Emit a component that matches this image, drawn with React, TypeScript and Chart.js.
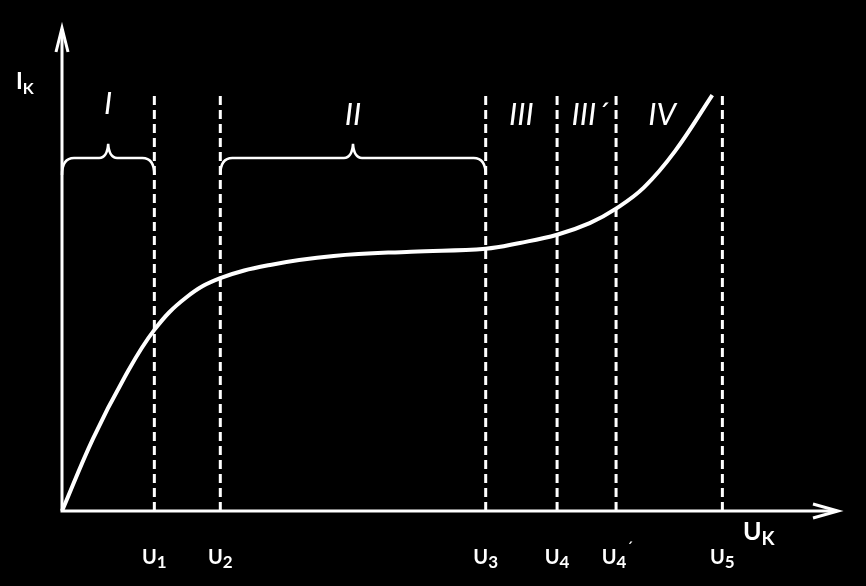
import { useEffect, useRef } from "react";
import { Chart, registerables } from "chart.js";

Chart.register(...registerables);

// Current–voltage characteristic (arbitrary units)
const voltage = [0, 4, 8, 11.9, 16, 20.4, 27, 35, 45, 54.6, 59, 63.8, 68, 71.4, 75, 79, 83.8];
const current = [0, 15, 27.5, 37.5, 44.2, 48.2, 51, 52.8, 53.7, 54.3, 55.5, 57.2, 59.6, 62.6, 67, 74.5, 86.1];

// Boundary voltages
const boundaryValues = [11.9, 20.4, 54.6, 63.8, 71.4, 85.1];
const boundaryNames = ["1", "2", "3", "4", "4´", "5"];
const boundaryTop = 86.1;

// Region labels (placed between boundaries)
const regionNames = ["I", "II", "III", "III´", "IV"];
const regionFrom = [0, 20.4, 54.6, 63.8, 71.4];
const regionTo = [11.9, 54.6, 63.8, 71.4, 85.1];
const bracedRegions = [0, 1];

const X_MAX = 100;
const Y_MAX = 100;

const FONT = "Lato, 'Open Sans', 'DejaVu Sans', sans-serif";

function drawSub(ctx: CanvasRenderingContext2D, main: string, sub: string, x: number, y: number, mainSize: number, subSize: number, subDrop: number, align: "left" | "center") {
  ctx.font = `bold ${mainSize}px ${FONT}`;
  const mw = ctx.measureText(main).width;
  let prime = "";
  if (sub.endsWith("´")) {
    prime = "´";
    sub = sub.slice(0, -1);
  }
  ctx.font = `bold ${subSize}px ${FONT}`;
  const sw = ctx.measureText(sub).width;
  const total = mw + sw;
  const x0 = align === "center" ? x - total / 2 : x;
  ctx.textAlign = "left";
  ctx.textBaseline = "alphabetic";
  ctx.font = `bold ${mainSize}px ${FONT}`;
  ctx.fillText(main, x0, y);
  ctx.font = `bold ${subSize}px ${FONT}`;
  ctx.fillText(sub, x0 + mw, y + subDrop);
  if (prime) {
    ctx.font = `${subSize}px ${FONT}`;
    ctx.fillText(prime, x0 + mw + sw, y - 10);
  }
}

function drawBrace(ctx: CanvasRenderingContext2D, x1: number, x2: number, y: number) {
  const mid = (x1 + x2) / 2;
  const r = 12;
  const tip = 14;
  ctx.beginPath();
  ctx.moveTo(x1, y + 17);
  ctx.quadraticCurveTo(x1, y, x1 + r, y);
  ctx.lineTo(mid - 9, y);
  ctx.quadraticCurveTo(mid - 1, y, mid, y - tip);
  ctx.quadraticCurveTo(mid + 1, y, mid + 9, y);
  ctx.lineTo(x2 - r, y);
  ctx.quadraticCurveTo(x2, y, x2, y + 17);
  ctx.stroke();
}

const decorPlugin = {
  id: "decor",
  beforeDatasetsDraw(chart: any) {
    const ctx: CanvasRenderingContext2D = chart.ctx;
    const xs = chart.scales.x;
    const ys = chart.scales.y;
    const x0 = xs.getPixelForValue(0);
    const y0 = ys.getPixelForValue(0);
    const xEnd = xs.getPixelForValue(X_MAX);
    const yEnd = ys.getPixelForValue(Y_MAX);
    ctx.save();
    ctx.strokeStyle = "#ffffff";
    ctx.fillStyle = "#ffffff";
    ctx.lineWidth = 3;
    ctx.lineCap = "butt";
    ctx.beginPath();
    ctx.moveTo(x0, y0);
    ctx.lineTo(x0, yEnd + 1);
    ctx.moveTo(x0 - 1.5, y0);
    ctx.lineTo(xEnd - 1, y0);
    ctx.stroke();
    ctx.lineJoin = "miter";
    ctx.beginPath();
    ctx.moveTo(x0 - 6, yEnd + 24);
    ctx.lineTo(x0, yEnd);
    ctx.lineTo(x0 + 6, yEnd + 24);
    ctx.stroke();
    ctx.beginPath();
    ctx.moveTo(xEnd - 25, y0 - 7);
    ctx.lineTo(xEnd, y0);
    ctx.lineTo(xEnd - 25, y0 + 7);
    ctx.stroke();
    ctx.restore();
  },
  afterDatasetsDraw(chart: any) {
    const ctx: CanvasRenderingContext2D = chart.ctx;
    const xs = chart.scales.x;
    const ys = chart.scales.y;
    const x0 = xs.getPixelForValue(0);
    const y0 = ys.getPixelForValue(0);
    const xEnd = xs.getPixelForValue(X_MAX);
    ctx.save();
    ctx.fillStyle = "#ffffff";
    ctx.strokeStyle = "#ffffff";
    drawSub(ctx, "I", "K", x0 - 46, y0 - 422, 23, 16, 5, "left");
    drawSub(ctx, "U", "K", xEnd - 95, y0 + 29, 25, 19, 5, "left");
    boundaryValues.forEach((v, i) => {
      const px = xs.getPixelForValue(v);
      const name = boundaryNames[i];
      const shift = name.endsWith("´") ? -2 : 0;
      drawSub(ctx, "U", name, px + shift, y0 + 53, 20, 17, 4, "center");
    });
    ctx.font = `italic 31px ${FONT}`;
    ctx.textAlign = "center";
    ctx.textBaseline = "alphabetic";
    regionNames.forEach((n, i) => {
      const a = xs.getPixelForValue(regionFrom[i]);
      const b = xs.getPixelForValue(regionTo[i]);
      const yy = i === 0 ? 114 : 125;
      let cx = (a + b) / 2;
      if (n === "IV") cx -= 7;
      if (n === "III´") cx += 3;
      ctx.fillText(n, cx, y0 - (511 - yy));
    });
    ctx.lineWidth = 2.5;
    bracedRegions.forEach((i) => {
      const a = xs.getPixelForValue(regionFrom[i]);
      const b = xs.getPixelForValue(regionTo[i]);
      drawBrace(ctx, a, b, ys.getPixelForValue(73.1));
    });
    ctx.restore();
  },
};

export default function App() {
  const ref = useRef<HTMLCanvasElement | null>(null);
  useEffect(() => {
    document.body.style.margin = "0";
    document.body.style.background = "#000";
    const canvas = ref.current!;
    const datasets: any[] = [
      {
        data: voltage.map((v, i) => ({ x: v, y: current[i] })),
        borderColor: "#ffffff",
        borderWidth: 4,
        pointRadius: 0,
        tension: 0.4,
        clip: false,
        order: 0,
      },
      ...boundaryValues.map((u) => ({
        data: [
          { x: u, y: 0 },
          { x: u, y: boundaryTop },
        ],
        borderColor: "#ffffff",
        borderWidth: 3,
        borderDash: [9, 5],
        pointRadius: 0,
        clip: false,
        order: 1,
      })),
    ];
    const chart = new Chart(canvas, {
      type: "line",
      data: { datasets },
      options: {
        responsive: false,
        animation: false,
        devicePixelRatio: 1,
        layout: { padding: { left: 62, right: 28, top: 28, bottom: 75 } },
        plugins: { legend: { display: false }, tooltip: { enabled: false } },
        scales: {
          x: { type: "linear", min: 0, max: X_MAX, display: false },
          y: { type: "linear", min: 0, max: Y_MAX, display: false },
        },
      },
      plugins: [decorPlugin],
    });
    return () => chart.destroy();
  }, []);
  return (
    <div style={{ width: 866, height: 586, background: "#000" }}>
      <canvas ref={ref} width={866} height={586} style={{ display: "block" }} />
    </div>
  );
}
